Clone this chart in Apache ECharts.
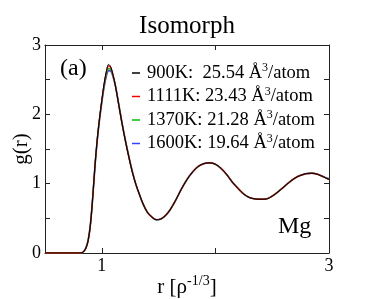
<!DOCTYPE html>
<html><head><meta charset="utf-8">
<script src="https://cdn.jsdelivr.net/npm/echarts@6/dist/echarts.min.js"></script>
<style>html,body{margin:0;padding:0;background:#fff}#c{width:374px;height:299px}</style>
</head><body><div id="c"></div>
<script>
const r = [0.50,0.70,0.80,0.82,0.84,0.86,0.88,0.90,0.92,0.94,0.96,0.98,1.00,1.02,1.04,1.06,1.08,1.10,1.12,1.15,1.18,1.21,1.24,1.27,1.30,1.33,1.36,1.40,1.44,1.48,1.52,1.56,1.60,1.65,1.70,1.75,1.80,1.85,1.90,1.95,2.00,2.05,2.10,2.15,2.20,2.25,2.30,2.35,2.40,2.45,2.50,2.55,2.60,2.65,2.70,2.75,2.80,2.85,2.90,2.95,3.00];
const g900  = [0,0,0,0.002,0.02,0.07,0.18,0.41,0.80,1.26,1.64,1.94,2.20,2.44,2.62,2.72,2.68,2.56,2.41,2.13,1.85,1.60,1.37,1.16,0.99,0.85,0.72,0.59,0.52,0.48,0.49,0.54,0.62,0.76,0.92,1.06,1.17,1.25,1.29,1.30,1.28,1.22,1.13,1.02,0.93,0.85,0.80,0.78,0.775,0.78,0.82,0.88,0.95,1.02,1.08,1.12,1.145,1.15,1.135,1.10,1.06];
const g1111 = [0,0,0,0.002,0.02,0.07,0.18,0.41,0.80,1.26,1.64,1.94,2.20,2.43,2.61,2.70,2.67,2.56,2.41,2.13,1.85,1.60,1.37,1.16,0.99,0.85,0.72,0.59,0.52,0.48,0.49,0.54,0.62,0.76,0.92,1.06,1.17,1.25,1.29,1.30,1.28,1.22,1.13,1.02,0.93,0.85,0.80,0.78,0.775,0.78,0.82,0.88,0.95,1.02,1.08,1.12,1.145,1.15,1.135,1.10,1.06];
const g1370 = [0,0,0,0.002,0.02,0.07,0.18,0.41,0.80,1.26,1.64,1.94,2.19,2.41,2.58,2.66,2.64,2.55,2.41,2.13,1.85,1.60,1.37,1.16,0.99,0.85,0.72,0.59,0.52,0.48,0.49,0.54,0.62,0.76,0.92,1.06,1.17,1.25,1.29,1.30,1.28,1.22,1.13,1.02,0.93,0.85,0.80,0.78,0.775,0.78,0.82,0.88,0.95,1.02,1.08,1.12,1.145,1.15,1.135,1.10,1.06];
const g1600 = [0,0,0,0.003,0.022,0.075,0.19,0.42,0.80,1.25,1.62,1.92,2.17,2.39,2.55,2.63,2.62,2.54,2.41,2.14,1.86,1.61,1.38,1.17,0.99,0.85,0.72,0.59,0.52,0.48,0.49,0.54,0.62,0.76,0.92,1.06,1.17,1.25,1.29,1.30,1.28,1.22,1.13,1.02,0.93,0.85,0.80,0.78,0.775,0.78,0.82,0.88,0.95,1.02,1.08,1.12,1.145,1.15,1.135,1.10,1.07];
const seriesNames = ['900K','1111K','1370K','1600K'];
const legendTexts = ['900K:  25.54 Å{sup|3}/atom','1111K: 23.43 Å{sup|3}/atom','1370K: 21.28 Å{sup|3}/atom','1600K: 19.64 Å{sup|3}/atom'];
const colors = ['#000000','#ff0000','#00c000','#3344ff'];
const widths = [1.0,1.3,1.4,1.6];
const xTickValues = [1,2,3];
const xLabelValues = [1,3];
const yRange = [0,3];

const F = 'Liberation Serif';
const allG = [g900,g1111,g1370,g1600];
const chart = echarts.init(document.getElementById('c'), null, {renderer:'canvas'});
const axisLineStyle = {color:'#222', width:1};
chart.setOption({
  animation:false,
  backgroundColor:'#fff',
  title:{text:'Isomorph', left:'center', top:9, textStyle:{fontFamily:F, fontSize:25, fontWeight:'normal', color:'#000'}},
  grid:{left:45, right:45, top:45, bottom:46, containLabel:false, outerBoundsMode:'none'},
  legend:{
    orient:'vertical', left:127, top:57, itemWidth:8, itemHeight:1.5, itemGap:3, icon:'rect',
    data: seriesNames,
    formatter: n => legendTexts[seriesNames.indexOf(n)],
    textStyle:{fontFamily:F, fontSize:18.5, color:'#000', padding:[0,0,0,2],
      rich:{sup:{fontFamily:F, fontSize:12, color:'#000', verticalAlign:'top', padding:[0,0,10,0]}}}
  },
  xAxis:[
    {type:'value', min:0.5, max:3, position:'bottom',
     axisLine:{show:true, onZero:false, lineStyle:axisLineStyle},
     axisTick:{show:true, inside:true, length:5, customValues:xTickValues, lineStyle:axisLineStyle},
     axisLabel:{customValues:xLabelValues, fontFamily:F, fontSize:18, color:'#000', margin:4, showMinLabel:true, showMaxLabel:true},
     splitLine:{show:false},
     name:'r [ρ{sup|-1/3}]', nameLocation:'middle', nameGap:21, nameMoveOverlap:false,
     nameTextStyle:{fontFamily:F, fontSize:21, color:'#000', rich:{sup:{fontFamily:F, fontSize:14, color:'#000', verticalAlign:'top', padding:[0,0,12,0]}}}},
    {type:'value', min:0.5, max:3, position:'top',
     axisLine:{show:true, onZero:false, lineStyle:axisLineStyle},
     axisTick:{show:true, inside:true, length:5, customValues:xTickValues, lineStyle:axisLineStyle},
     axisLabel:{show:false}, splitLine:{show:false}}
  ],
  yAxis:[
    {type:'value', min:yRange[0], max:yRange[1], interval:0.5, position:'left',
     axisLine:{show:true, onZero:false, lineStyle:axisLineStyle},
     axisTick:{show:true, inside:true, length:5, lineStyle:axisLineStyle},
     axisLabel:{fontFamily:F, fontSize:18, color:'#000', margin:4, formatter:v => (Math.abs(v-Math.round(v))<1e-9 ? String(Math.round(v)) : '')},
     splitLine:{show:false},
     name:'g(r)', nameLocation:'middle', nameGap:13, nameRotate:90, nameMoveOverlap:false,
     nameTextStyle:{fontFamily:F, fontSize:21, color:'#000'}},
    {type:'value', min:yRange[0], max:yRange[1], interval:0.5, position:'right',
     axisLine:{show:true, onZero:false, lineStyle:axisLineStyle},
     axisTick:{show:true, inside:true, length:5, lineStyle:axisLineStyle},
     axisLabel:{show:false}, splitLine:{show:false}}
  ],
  graphic:[
    {type:'text', left:60, top:57, style:{text:'(a)', font:'24px "Liberation Serif"', fill:'#000'}},
    {type:'text', left:278, top:215, style:{text:'Mg', font:'24px "Liberation Serif"', fill:'#000'}}
  ],
  series: seriesNames.map((n,i)=>({
    name:n, type:'line', xAxisIndex:0, yAxisIndex:0, showSymbol:false, smooth:0.35,
    z: 10 - i,
    lineStyle:{color:colors[i], width:widths[i]}, itemStyle:{color:colors[i]},
    data: r.map((x,k)=>[x, allG[i][k]])
  }))
});
</script></body></html>
